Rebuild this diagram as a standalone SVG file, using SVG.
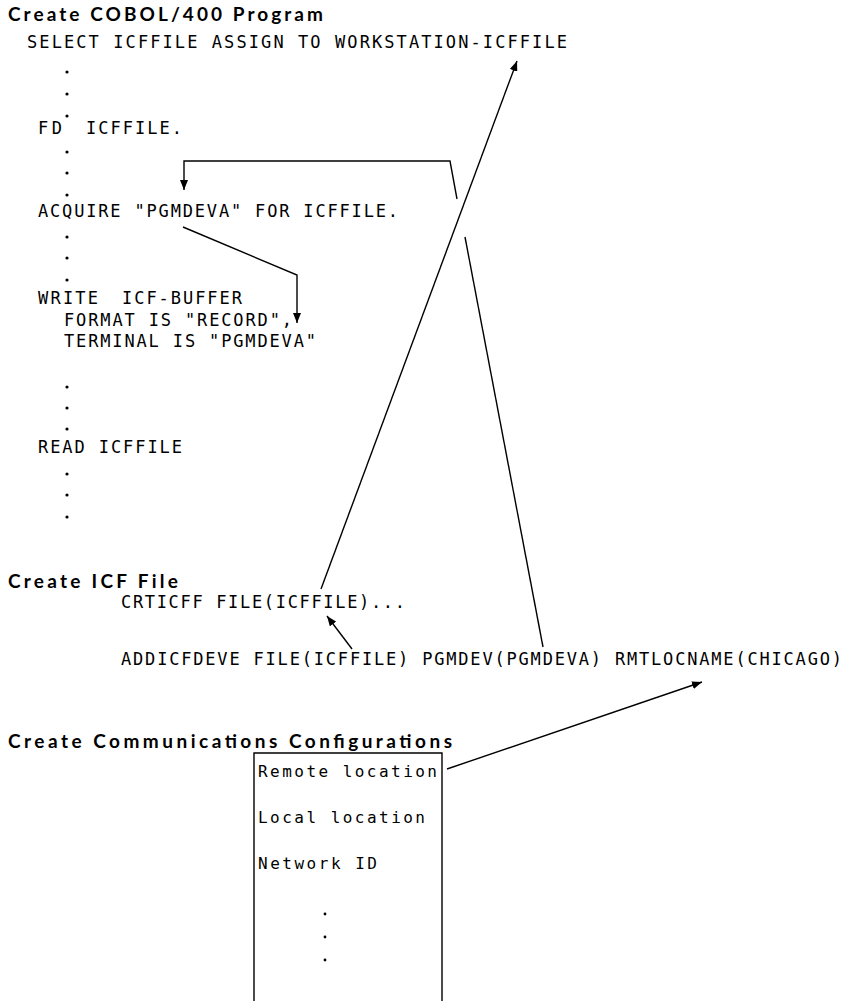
<svg xmlns="http://www.w3.org/2000/svg" width="848" height="1001" viewBox="0 0 848 1001">
<defs>
<style>
.t{font-family:"Lato","DejaVu Sans",sans-serif;font-weight:bold;font-size:19px;fill:#000}
.c{font-family:"DejaVu Sans Mono","Liberation Mono",monospace;font-size:17px;fill:#000}
.b{font-family:"DejaVu Sans Mono","Liberation Mono",monospace;font-size:16px;fill:#000}
.ln{fill:none;stroke:#000;stroke-width:1.4}
.d{fill:#000}
</style>
<marker id="ah" viewBox="0 0 10 8" refX="10" refY="4" markerWidth="10" markerHeight="8" markerUnits="userSpaceOnUse" orient="auto">
<path d="M0,0 L10,4 L0,8 z" fill="#000"/>
</marker>
</defs>
<rect width="848" height="1001" fill="#fff"/>

<g id="cobol-program">
<text class="t" x="8" y="21" textLength="315" lengthAdjust="spacing">Create COBOL/400 Program</text>
<text class="c" x="27" y="48" textLength="540" lengthAdjust="spacing">SELECT ICFFILE ASSIGN TO WORKSTATION-ICFFILE</text>
<circle class="d" cx="67" cy="72" r="1.6"/><circle class="d" cx="67" cy="94" r="1.6"/><circle class="d" cx="67" cy="116" r="1.6"/>
<text class="c" y="134"><tspan x="38" textLength="24" lengthAdjust="spacing">FD</tspan> <tspan x="86" textLength="96" lengthAdjust="spacing">ICFFILE.</tspan></text>
<circle class="d" cx="67" cy="152" r="1.6"/><circle class="d" cx="67" cy="173" r="1.6"/><circle class="d" cx="67" cy="195" r="1.6"/>
<text class="c" x="38" y="217" textLength="360" lengthAdjust="spacing">ACQUIRE "PGMDEVA" FOR ICFFILE.</text>
<circle class="d" cx="67" cy="237" r="1.6"/><circle class="d" cx="67" cy="258" r="1.6"/><circle class="d" cx="67" cy="280" r="1.6"/>
<text class="c" y="304"><tspan x="38" textLength="60" lengthAdjust="spacing">WRITE</tspan> <tspan x="122" textLength="120" lengthAdjust="spacing">ICF-BUFFER</tspan></text>
<text class="c" x="64" y="326" textLength="228" lengthAdjust="spacing">FORMAT IS "RECORD",</text>
<text class="c" x="64" y="347" textLength="252" lengthAdjust="spacing">TERMINAL IS "PGMDEVA"</text>
<circle class="d" cx="67" cy="387" r="1.6"/><circle class="d" cx="67" cy="408" r="1.6"/><circle class="d" cx="67" cy="429" r="1.6"/>
<text class="c" x="38" y="453" textLength="144" lengthAdjust="spacing">READ ICFFILE</text>
<circle class="d" cx="67" cy="474" r="1.6"/><circle class="d" cx="67" cy="495" r="1.6"/><circle class="d" cx="67" cy="517" r="1.6"/>
</g>

<g id="icf-file">
<text class="t" x="8" y="588" textLength="170" lengthAdjust="spacing">Create ICF File</text>
<text class="c" x="121" y="608" textLength="284" lengthAdjust="spacing">CRTICFF FILE(ICFFILE)...</text>
<text class="c" x="121" y="665" textLength="721" lengthAdjust="spacing">ADDICFDEVE FILE(ICFFILE) PGMDEV(PGMDEVA) RMTLOCNAME(CHICAGO)</text>
</g>

<g id="comm-config">
<text class="t" x="8" y="748" textLength="444" lengthAdjust="spacing">Create Communications Configurations</text>
<path class="ln" d="M254,1002 V753 H442 V1002"/>
<text class="b" x="258" y="777" textLength="179" lengthAdjust="spacing">Remote location</text>
<text class="b" x="258" y="823" textLength="167" lengthAdjust="spacing">Local location</text>
<text class="b" x="258" y="869" textLength="119" lengthAdjust="spacing">Network ID</text>
<circle class="d" cx="325" cy="914" r="1.4"/><circle class="d" cx="325" cy="937" r="1.4"/><circle class="d" cx="325" cy="960" r="1.4"/>
</g>

<g id="connectors">
<line class="ln" x1="321" y1="589" x2="517" y2="61" marker-end="url(#ah)"/>
<line class="ln" x1="352" y1="649" x2="327" y2="616" marker-end="url(#ah)"/>
<polyline class="ln" points="543,647 465,237"/>
<polyline class="ln" points="457,199 450,161 184,161 184,190" marker-end="url(#ah)"/>
<polyline class="ln" points="183,227 297,275 297,323" marker-end="url(#ah)"/>
<line class="ln" x1="447" y1="769" x2="702" y2="682" marker-end="url(#ah)"/>
</g>
</svg>
